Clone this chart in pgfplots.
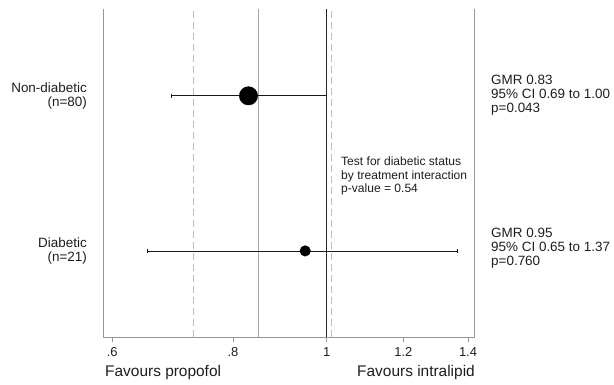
\documentclass[border=0pt]{standalone}
\usepackage{pgfplots}
\pgfplotsset{compat=1.18}
\usepackage{fontspec}
\setmainfont{Liberation Sans}
\definecolor{frame}{RGB}{150,150,150}
\definecolor{refl}{RGB}{165,165,165}
\definecolor{dashl}{RGB}{190,190,190}
\definecolor{txt}{RGB}{30,30,30}
\begin{document}
\begin{tikzpicture}
\begin{axis}[
  at={(0,0)}, anchor=south west,
  scale only axis, width=371bp, height=328bp,
  xmode=log, xmin=0.587, xmax=1.42, ymin=0.445, ymax=2.56,
  axis line style={draw=none},
  xtick={0.6,0.8,1,1.2,1.4},
  xticklabels={.6,.8,1,1.2,1.4},
  minor tick num=0,
  xtick pos=left, ytick=\empty,
  tick align=outside, major tick length=5bp,
  tick style={frame, line width=0.6pt},
  xticklabel style={font=\fontsize{13}{14}\selectfont, text=txt, yshift=-2bp},
  clip=false,
]
\addplot[refl, line width=0.6pt] coordinates {(0.85,0.445) (0.85,2.56)};
\addplot[dashl, line width=0.8pt, dash pattern=on 7bp off 4bp] coordinates {(0.728,0.445) (0.728,2.56)};
\addplot[dashl, line width=0.8pt, dash pattern=on 7bp off 4bp] coordinates {(1.01,0.445) (1.01,2.56)};
\addplot[black!85, line width=0.6pt] coordinates {(1,0.445) (1,2.56)};
% CI lines
\addplot[black!90, line width=0.8pt, mark=|, mark size=2.3bp, mark options={line width=0.8pt}] coordinates {(0.69,2) (1.00,2)};
\addplot[black!90, line width=0.8pt, mark=|, mark size=2.3bp, mark options={line width=0.8pt}] coordinates {(0.652,1) (1.366,1)};
% point estimates
\addplot[only marks, mark=*, mark size=9.2bp, black] coordinates {(0.83,2)};
\addplot[only marks, mark=*, mark size=5.3bp, black] coordinates {(0.95,1)};
\end{axis}
\draw[frame, line width=0.6pt] (0,328bp) -- (0,0) -- (371bp,0) -- (371bp,328bp);
\begin{scope}[every node/.style={font=\fontsize{13.5}{14}\selectfont, text=txt, inner sep=0pt}]
\node[anchor=east, align=right] at (-16bp,241bp) {Non-diabetic\\(n=80)};
\node[anchor=east, align=right] at (-16bp,86bp) {Diabetic\\(n=21)};
\node[anchor=west, align=left] at (388bp,242bp) {GMR 0.83\\95\% CI 0.69 to 1.00\\p=0.043};
\node[anchor=west, align=left] at (388bp,89bp) {GMR 0.95\\95\% CI 0.65 to 1.37\\p=0.760};
\node[anchor=west, align=left, font=\fontsize{12.1}{13.5}\selectfont] at (238bp,161bp) {Test for diabetic status\\by treatment interaction\\p-value = 0.54};
\node[anchor=west, font=\fontsize{15.5}{17}\selectfont] at (2bp,-36bp) {Favours propofol};
\node[anchor=east, font=\fontsize{15.5}{17}\selectfont] at (372bp,-36bp) {Favours intralipid};
\end{scope}
\pgfresetboundingbox
\path[use as bounding box] (-103bp,-48bp) rectangle (511bp,337bp);
\end{tikzpicture}
\end{document}
